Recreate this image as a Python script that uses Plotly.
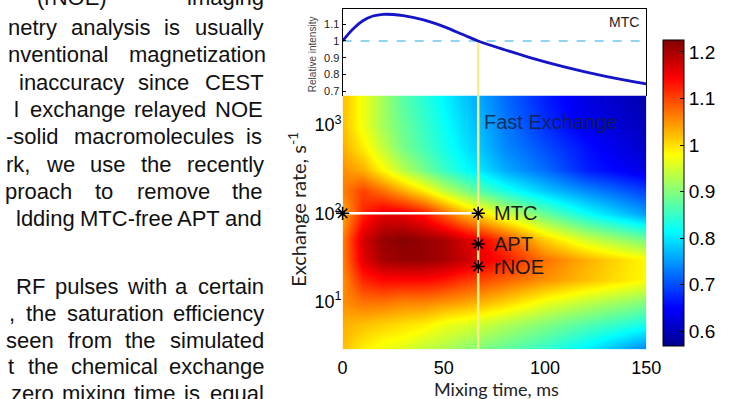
import math
import plotly.graph_objects as go

W, H = 739, 399

def px(x):
    return x / W

def py(y):
    return 1 - y / H

# ---------------- data ----------------
mixing_time = [0, 10, 20, 30, 40, 50, 60, 67, 80, 100, 120, 150]
exchange_rate = [3, 5.6, 10, 18, 30, 50, 100, 180, 316, 562, 1000, 2000]
z_rows = [
    [1.02, 0.99, 0.97, 0.96, 0.94, 0.93, 0.91, 0.90, 0.88, 0.85, 0.81, 0.74],
    [1.03, 1.02, 1.01, 1.00, 0.99, 0.97, 0.96, 0.95, 0.93, 0.90, 0.87, 0.83],
    [1.05, 1.07, 1.07, 1.06, 1.06, 1.05, 1.04, 1.03, 1.01, 0.97, 0.94, 0.90],
    [1.05, 1.12, 1.14, 1.14, 1.14, 1.13, 1.11, 1.10, 1.08, 1.05, 1.02, 0.98],
    [1.06, 1.16, 1.20, 1.21, 1.21, 1.20, 1.18, 1.16, 1.13, 1.07, 1.03, 0.98],
    [1.06, 1.17, 1.21, 1.22, 1.21, 1.20, 1.17, 1.15, 1.10, 1.01, 0.95, 0.89],
    [1.03, 1.12, 1.16, 1.155, 1.13, 1.08, 1.03, 1.00, 0.95, 0.88, 0.82, 0.75],
    [1.06, 1.10, 1.07, 1.03, 0.99, 0.94, 0.90, 0.87, 0.83, 0.78, 0.74, 0.69],
    [1.05, 1.03, 0.98, 0.93, 0.89, 0.85, 0.82, 0.80, 0.76, 0.72, 0.67, 0.63],
    [1.03, 0.99, 0.94, 0.89, 0.86, 0.83, 0.80, 0.78, 0.74, 0.70, 0.66, 0.61],
    [1.02, 0.97, 0.92, 0.88, 0.85, 0.82, 0.79, 0.77, 0.73, 0.68, 0.64, 0.60],
    [1.02, 0.97, 0.92, 0.87, 0.84, 0.81, 0.78, 0.76, 0.72, 0.67, 0.63, 0.59],
]

mtc_time = [0, 5, 10, 15, 20, 25, 30, 40, 50, 60, 67, 80, 93, 110, 130, 150]
mtc_intensity = [1.0, 1.07, 1.12, 1.148, 1.158, 1.157, 1.15, 1.125, 1.085,
                 1.035, 1.0, 0.948, 0.90, 0.845, 0.79, 0.745]

selected_time = 67
star_time = [0, 67, 67, 67]
star_rate = [100, 100, 45, 25]
star_labels = ["", "MTC", "APT", "rNOE"]

x_ticks = [0, 50, 100, 150]
y_ticks = [10, 100, 1000]
y_ticktext = ["10<sup>1</sup>", "10<sup>2</sup>", "10<sup>3</sup>"]
rel_ticks = [0.7, 0.8, 0.9, 1.0, 1.1]
rel_ticktext = ["0.7", "0.8", "0.9", "1", "1.1"]
cb_ticks = [0.6, 0.7, 0.8, 0.9, 1.0, 1.1, 1.2]
cb_ticktext = ["0.6", "0.7", "0.8", "0.9", "1", "1.1", "1.2"]

x_range = [0, 150]
rate_range = [2.9, 2150]
rel_range = [0.676, 1.19]
z_min, z_max = 0.568, 1.225

page_lines = [
    (-3, 32, 263, ["(rNOE)", "imaging"]),
    (28, 2, 263, ["netry", "analysis", "is", "usually"]),
    (55, 2, 263, ["nventional", "magnetization"]),
    (83, 13, 263, ["inaccuracy", "since", "CEST"]),
    (110, 8, 263, ["l", "exchange", "relayed", "NOE"]),
    (137, 0, 263, ["-solid", "macromolecules", "is"]),
    (165, 0, 263, ["rk,", "we", "use", "the", "recently"]),
    (192, -1, 263, ["proach", "to", "remove", "the"]),
    (220, 10, 262, ["ldding", "MTC-free", "APT", "and"]),
    (288, 10, 263, ["RF", "pulses", "with", "a", "certain"]),
    (315, 3, 263, [",", "the", "saturation", "efficiency"]),
    (342, 0, 263, ["seen", "from", "the", "simulated"]),
    (368, 2, 263, ["t", "the", "chemical", "exchange"]),
    (395, 5, 263, ["zero", "mixing", "time", "is", "equal"]),
]

# Arial / Liberation Sans advance widths (per 1000 em)
AW = {' ': 278, ',': 278, '-': 333, '.': 278, '(': 333, ')': 333,
      'a': 556, 'b': 556, 'c': 500, 'd': 556, 'e': 556, 'f': 278, 'g': 556,
      'h': 556, 'i': 222, 'j': 222, 'k': 500, 'l': 222, 'm': 833, 'n': 556,
      'o': 556, 'p': 556, 'q': 556, 'r': 333, 's': 500, 't': 278, 'u': 556,
      'v': 500, 'w': 722, 'x': 500, 'y': 500, 'z': 500,
      'A': 667, 'C': 722, 'E': 667, 'F': 611, 'M': 833, 'N': 722, 'O': 778,
      'P': 667, 'R': 722, 'S': 667, 'T': 611}
TEXT_SIZE = 22

def text_width(s, size):
    return sum(AW.get(c, 556) for c in s) * size / 1000.0

# ---------------- colours ----------------
jet = [[0.0, 'rgb(0,0,143)'], [0.125, 'rgb(0,0,255)'], [0.375, 'rgb(0,255,255)'],
       [0.625, 'rgb(255,255,0)'], [0.875, 'rgb(255,0,0)'], [1.0, 'rgb(128,0,0)']]

fig = go.Figure()

fig.add_trace(go.Heatmap(
    x=mixing_time, y=exchange_rate, z=z_rows,
    colorscale=jet, zmin=z_min, zmax=z_max, zsmooth='best',
    xaxis='x', yaxis='y',
    colorbar=dict(
        x=px(676), xanchor='left', y=py(348), yanchor='bottom',
        len=308 / H, lenmode='fraction', thickness=21, thicknessmode='pixels',
        outlinewidth=1, outlinecolor='black', xpad=0, ypad=0,
        tickvals=cb_ticks, ticktext=cb_ticktext, ticks='inside', ticklen=4,
        tickcolor='black',
        tickfont=dict(family='Liberation Sans, Arial', size=19, color='black'),
    ),
))

# vertical selection line in the heatmap
fig.add_trace(go.Scatter(
    x=[selected_time, selected_time], y=rate_range, mode='lines',
    line=dict(color='#f4ef88', width=2.5), xaxis='x', yaxis='y',
    hoverinfo='skip'))
# white horizontal line at MTC rate
fig.add_trace(go.Scatter(
    x=[0, selected_time], y=[star_rate[0], star_rate[1]], mode='lines',
    line=dict(color='white', width=2.5), xaxis='x', yaxis='y', hoverinfo='skip'))
# stars
fig.add_trace(go.Scatter(
    x=star_time, y=star_rate, mode='markers',
    marker=dict(symbol='asterisk-open', size=11, color='black',
                line=dict(color='black', width=1.6)),
    xaxis='x', yaxis='y', cliponaxis=False, hoverinfo='skip'))

# top plot
fig.add_trace(go.Scatter(
    x=x_range, y=[1.0, 1.0], mode='lines',
    line=dict(color='#6ec6ea', width=1.5, dash='dash'),
    xaxis='x2', yaxis='y2', hoverinfo='skip'))
fig.add_trace(go.Scatter(
    x=[selected_time, selected_time], y=[rel_range[0], 1.0], mode='lines',
    line=dict(color='#f4ef88', width=2.5), xaxis='x2', yaxis='y2', hoverinfo='skip'))
fig.add_trace(go.Scatter(
    x=mtc_time, y=mtc_intensity, mode='lines', line_shape='spline',
    line=dict(color='#1414c8', width=2.8), xaxis='x2', yaxis='y2', hoverinfo='skip'))

xdom = [px(347), px(659)]
tick_font = dict(family='Liberation Sans, Arial', size=18, color='black')

fig.update_layout(
    width=W, height=H, margin=dict(l=0, r=0, t=0, b=0),
    paper_bgcolor='white', plot_bgcolor='white', showlegend=False,
    xaxis=dict(domain=xdom, range=x_range, tickvals=x_ticks, ticks='',
               showgrid=False, zeroline=False, showline=False,
               ticklabelstandoff=6, tickfont=tick_font, anchor='y'),
    yaxis=dict(domain=[py(351), py(96)], type='log',
               range=[0.4624, 3.3324], tickvals=y_ticks, ticktext=y_ticktext,
               ticks='', showgrid=False, zeroline=False, showline=False,
               tickfont=dict(family='Liberation Sans, Arial', size=18, color='black'),
               anchor='x'),
    xaxis2=dict(domain=xdom, range=x_range, showticklabels=False, ticks='',
                showgrid=False, zeroline=False, showline=True, side='top',
                linecolor='black', linewidth=1, anchor='y2'),
    yaxis2=dict(domain=[py(96), py(9)], range=rel_range, tickvals=rel_ticks,
                ticktext=rel_ticktext, ticks='inside', ticklen=3,
                tickcolor='black', showgrid=False, zeroline=False,
                showline=True, mirror=True, linecolor='black', linewidth=1,
                tickfont=dict(family='Liberation Sans, Arial', size=11, color='#222'),
                anchor='x2'),
)

ann = []
# axis titles
ann.append(dict(text='Mixing time, ms', x=px(505), y=py(391), xref='paper', yref='paper',
                xanchor='center', yanchor='middle', showarrow=False,
                font=dict(family='Lato', size=18, color='#222')))
ann.append(dict(text='Exchange rate, s<sup>-1</sup>', x=px(300), y=py(210), xref='paper',
                yref='paper', xanchor='center', yanchor='middle', textangle=-90,
                showarrow=False, font=dict(family='Lato', size=20, color='#222')))
ann.append(dict(text='Relative intensity', x=px(316), y=py(54), xref='paper', yref='paper',
                xanchor='center', yanchor='middle', textangle=-90, showarrow=False,
                font=dict(family='Liberation Sans, Arial', size=10, color='#444')))
ann.append(dict(text='MTC', x=px(654), y=py(22), xref='paper', yref='paper',
                xanchor='right', yanchor='middle', showarrow=False,
                font=dict(family='Liberation Sans, Arial', size=14, color='#222')))
ann.append(dict(text='Fast Exchange', x=px(490), y=py(123), xref='paper', yref='paper',
                xanchor='left', yanchor='middle', showarrow=False,
                font=dict(family='Liberation Sans, Arial', size=20, color='rgba(20,30,60,0.85)')))
for t, r, lab in zip(star_time, star_rate, star_labels):
    if lab:
        ann.append(dict(text=lab, x=t, y=math.log10(r), xref='x', yref='y',
                        xanchor='left', yanchor='middle', xshift=14, showarrow=False,
                        font=dict(family='Liberation Sans, Arial', size=20, color='#1a1a1a')))

# page text, justified word by word
for (yy, x0, x1, words) in page_lines:
    widths = [text_width(w, TEXT_SIZE) for w in words]
    gaps = len(words) - 1
    gap = (x1 - x0 - sum(widths)) / gaps if gaps > 0 else 0
    xpos = x0
    for w, wd in zip(words, widths):
        ann.append(dict(text=w, x=px(xpos), y=py(yy), xref='paper', yref='paper',
                        xanchor='left', yanchor='middle', showarrow=False, borderpad=0,
                        font=dict(family='Liberation Sans, Arial', size=TEXT_SIZE, color='#111')))
        xpos += wd + gap

fig.update_layout(annotations=ann)
fig.write_html('out.html', config={'displayModeBar': False},
               post_script="document.body.style.margin='0';")
